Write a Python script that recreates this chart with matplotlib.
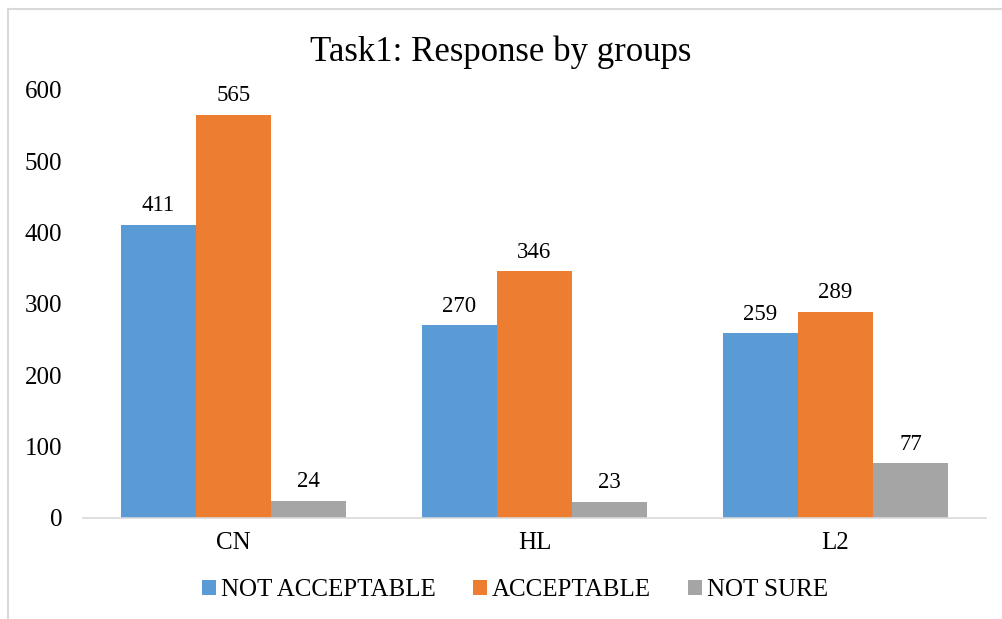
import matplotlib
matplotlib.use("Agg")
import matplotlib.pyplot as plt
import numpy as np
from matplotlib.lines import Line2D

categories = ["CN", "HL", "L2"]
series_names = ["NOT ACCEPTABLE", "ACCEPTABLE", "NOT SURE"]
not_acceptable = [411, 270, 259]
acceptable = [565, 346, 289]
not_sure = [24, 23, 77]
yticks = [0, 100, 200, 300, 400, 500, 600]

colors = ["#5B9BD5", "#ED7D31", "#A5A5A5"]
plt.rcParams['font.family'] = ['Liberation Serif', 'DejaVu Serif']

W, H = 1002, 619
fig = plt.figure(figsize=(W/100, H/100), dpi=100)
ax = fig.add_axes([83/W, 1-518/H, (986-83)/W, (518-90)/H])

x = np.arange(len(categories))
width = 0.25
data = [not_acceptable, acceptable, not_sure]
for i, (vals, name, c) in enumerate(zip(data, series_names, colors)):
    bars = ax.bar(x + (i-1)*width, vals, width, color=c, label=name)
    for b, v in zip(bars, vals):
        ax.text(b.get_x()+b.get_width()/2, v + 12, str(v), ha='center', va='bottom',
                fontsize=16.5, color='#000000')

ax.set_xlim(-0.5, 2.5)
ax.set_ylim(0, 600)
ax.set_yticks(yticks)
ax.set_xticks(x)
ax.set_xticklabels(categories, fontsize=18)
ax.tick_params(axis='y', labelsize=18, length=0, pad=15)
ax.tick_params(axis='x', length=0, pad=10)
for s in ['top', 'right', 'left']:
    ax.spines[s].set_visible(False)
ax.spines['bottom'].set_color('#D9D9D9')
ax.spines['bottom'].set_linewidth(1.2)

fig.text(0.5, 1-52/H, "Task1: Response by groups", ha='center', va='center', fontsize=25)

leg = fig.legend(loc='center', bbox_to_anchor=(515/W, 1-590/H), ncol=3, frameon=False,
                 fontsize=18, handlelength=0.55, handleheight=0.55, handletextpad=0.2,
                 columnspacing=1.5)

# chart border (left & top visible)
fig.add_artist(Line2D([8/W, 8/W], [0, 1-9/H], transform=fig.transFigure, color='#D9D9D9', lw=1.5))
fig.add_artist(Line2D([8/W, 1], [1-9/H, 1-9/H], transform=fig.transFigure, color='#D9D9D9', lw=1.5))

fig.savefig("out.png", dpi=100, facecolor='white')
